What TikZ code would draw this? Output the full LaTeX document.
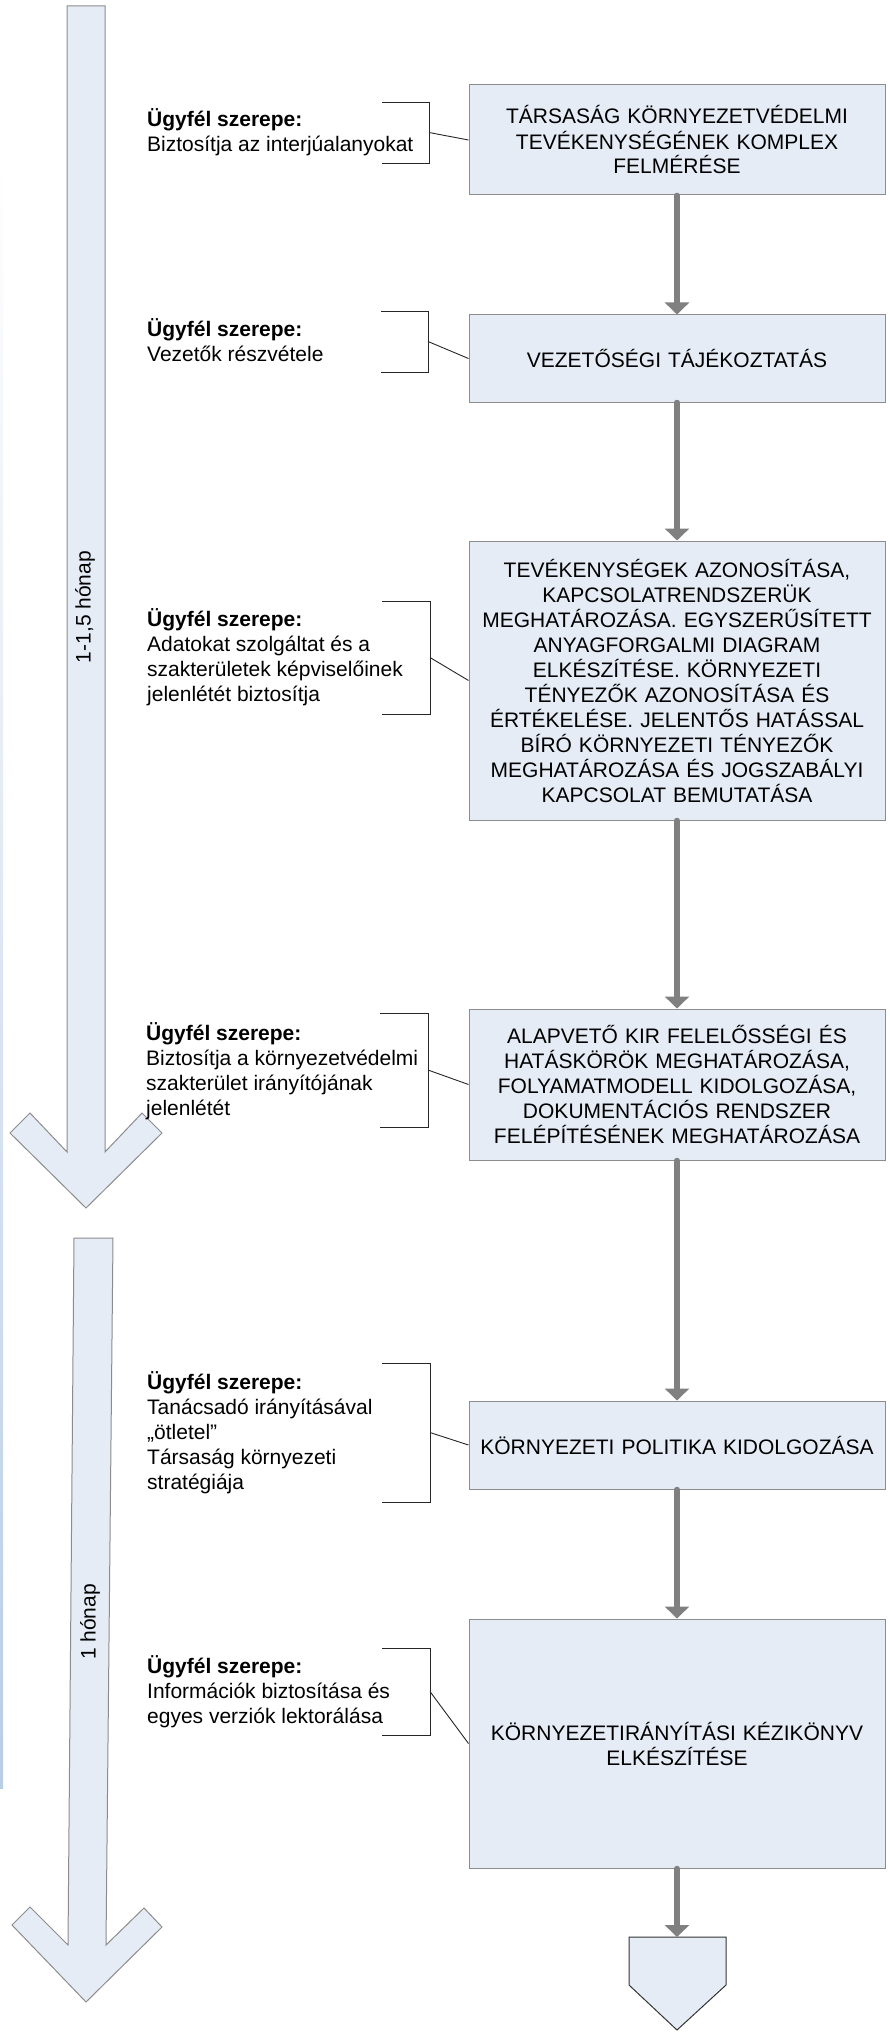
\documentclass[tikz,border=0pt]{standalone}
\usepackage{fontspec}
\setmainfont{Liberation Sans}
\usetikzlibrary{arrows.meta}
\definecolor{boxfill}{RGB}{230,236,246}
\definecolor{boxline}{RGB}{140,140,140}
\definecolor{flowgray}{RGB}{128,128,128}
\definecolor{stripblue}{RGB}{185,205,229}
\tikzset{
  stepbox/.style={draw=boxline, fill=boxfill, line width=1pt, minimum width=416pt,
    align=center, text width=410pt, inner sep=0pt, font=\fontsize{21}{25}\selectfont},
  flow/.style={draw=flowgray, line width=5.5pt, line cap=round, -{Triangle[width=24pt,length=12pt]}},
  role/.style={anchor=west, align=left, inner sep=0pt, font=\fontsize{21}{25}\selectfont},
  brk/.style={draw=black!85, line width=0.9pt},
  bigarrow/.style={fill=boxfill, draw=boxline, line width=1pt},
  timelabel/.style={rotate=90, inner sep=0pt, font=\fontsize{21}{25}\selectfont},
}
\begin{document}
\begin{tikzpicture}[x=1pt, y=-1pt]
\useasboundingbox (0,0) rectangle (890,2033);

% faint strip on the left edge
\shade[top color=white, bottom color=stripblue] (0,156) rectangle (3,1788);

% big timeline arrows
\draw[bigarrow] (67,6) -- (105,6) -- (105,1152) -- (142,1113) -- (162,1133) -- (86,1208)
  -- (10,1133) -- (30,1113) -- (67,1152) -- cycle;
\node[timelabel] (t1) at (85,607) {1-1,5 hónap};

\draw[bigarrow] (74,1238) -- (113,1238) -- (106,1945) -- (144,1908) -- (162,1927) -- (86,2002)
  -- (12,1925) -- (30,1907) -- (68,1945) -- cycle;
\node[timelabel] (t2) at (90,1622) {1 hónap};

% step boxes
\node[stepbox, minimum height=110pt] (b1) at (677,140)
  {TÁRSASÁG KÖRNYEZETVÉDELMI\\TEVÉKENYSÉGÉNEK KOMPLEX\\FELMÉRÉSE};
\node[stepbox, minimum height=87pt] (b2) at (677,358.5)
  {VEZETŐSÉGI TÁJÉKOZTATÁS};
\node[stepbox, minimum height=279pt] (b3) at (677,680.5)
  {TEVÉKENYSÉGEK AZONOSÍTÁSA,\\KAPCSOLATRENDSZERÜK\\MEGHATÁROZÁSA. EGYSZERŰSÍTETT\\ANYAGFORGALMI DIAGRAM\\ELKÉSZÍTÉSE. KÖRNYEZETI\\TÉNYEZŐK AZONOSÍTÁSA ÉS\\ÉRTÉKELÉSE. JELENTŐS HATÁSSAL\\BÍRÓ KÖRNYEZETI TÉNYEZŐK\\MEGHATÁROZÁSA ÉS JOGSZABÁLYI\\KAPCSOLAT BEMUTATÁSA};
\node[stepbox, minimum height=151pt] (b4) at (677,1084.5)
  {ALAPVETŐ KIR FELELŐSSÉGI ÉS\\HATÁSKÖRÖK MEGHATÁROZÁSA,\\FOLYAMATMODELL KIDOLGOZÁSA,\\DOKUMENTÁCIÓS RENDSZER\\FELÉPÍTÉSÉNEK MEGHATÁROZÁSA};
\node[stepbox, minimum height=88pt] (b5) at (677,1445)
  {KÖRNYEZETI POLITIKA KIDOLGOZÁSA};
\node[stepbox, minimum height=249pt] (b6) at (677,1743.5)
  {KÖRNYEZETIRÁNYÍTÁSI KÉZIKÖNYV\\ELKÉSZÍTÉSE};

% final pentagon
\draw[fill=boxfill, draw=black!80, line width=1pt] (629,1937) -- (726,1937) -- (726,1985)
  -- (677,2030) -- (629,1985) -- cycle;
\coordinate (endtop) at (677,1937);

% flow arrows
\draw[flow] (b1.south) -- (b2.north);
\draw[flow] (b2.south) -- (b3.north);
\draw[flow] (b3.south) -- (b4.north);
\draw[flow] (b4.south) -- (b5.north);
\draw[flow] (b5.south) -- (b6.north);
\draw[flow] (b6.south) -- (endtop);

% client role texts
\node[role] (r1) at (147,132.5) {\textbf{Ügyfél szerepe:}\\Biztosítja az interjúalanyokat};
\node[role] (r2) at (147,340) {\textbf{Ügyfél szerepe:}\\Vezetők részvétele};
\node[role] (r3) at (147,657.5) {\textbf{Ügyfél szerepe:}\\Adatokat szolgáltat és a\\szakterületek képviselőinek\\jelenlétét biztosítja};
\node[role] (r4) at (146,1071.5) {\textbf{Ügyfél szerepe:}\\Biztosítja a környezetvédelmi\\szakterület irányítójának\\jelenlétét};
\node[role] (r5) at (147,1432.5) {\textbf{Ügyfél szerepe:}\\Tanácsadó irányításával\\„ötletel”\\Társaság környezeti\\stratégiája};
\node[role] (r6) at (147,1692) {\textbf{Ügyfél szerepe:}\\Információk biztosítása és\\egyes verziók lektorálása};

% brackets and their links
\draw[brk] (382,102) -- (429,102) -- (429,163) -- (382,163);
\coordinate (m1) at (429,132.5);
\draw[brk] (m1) -- (b1.west);

\draw[brk] (381,311) -- (428,311) -- (428,372) -- (381,372);
\coordinate (m2) at (428,341.5);
\draw[brk] (m2) -- (b2.west);

\draw[brk] (382,601) -- (430,601) -- (430,714) -- (382,714);
\coordinate (m3) at (430,657.5);
\draw[brk] (m3) -- (b3.west);

\draw[brk] (380,1013) -- (428,1013) -- (428,1127) -- (380,1127);
\coordinate (m4) at (428,1070);
\draw[brk] (m4) -- (b4.west);

\draw[brk] (382,1363) -- (430,1363) -- (430,1502) -- (382,1502);
\coordinate (m5) at (430,1432.5);
\draw[brk] (m5) -- (b5.west);

\draw[brk] (382,1648) -- (430,1648) -- (430,1735) -- (382,1735);
\coordinate (m6) at (430,1691.5);
\draw[brk] (m6) -- (b6.west);
\end{tikzpicture}
\end{document}
